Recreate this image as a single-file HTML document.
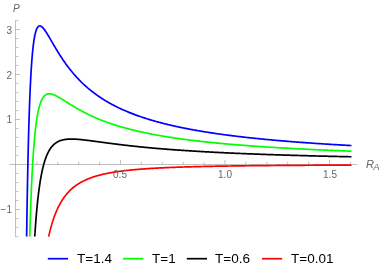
<!DOCTYPE html>
<html><head><meta charset="utf-8"><style>
html,body{margin:0;padding:0;background:#fff}
body{width:382px;height:272px;position:relative;overflow:hidden;font-family:"Liberation Sans",sans-serif}
.t,.l{will-change:transform}
.t{position:absolute;color:#666;font-size:10px;line-height:12px;white-space:nowrap}
.l{position:absolute;color:#000;font-size:13.5px;line-height:16px;white-space:nowrap;top:250.8px}
.i{font-style:italic}
</style></head><body>
<svg width="382" height="272" viewBox="0 0 382 272" style="position:absolute;left:0;top:0">
<g stroke="#808080" stroke-width="0.5" fill="none">
<line x1="9.3" y1="164.50" x2="357.3" y2="164.50"/>
<line x1="15.50" y1="20.5" x2="15.50" y2="236.5"/>
<line x1="36.90" y1="164.50" x2="36.90" y2="161.70"/>
<line x1="57.80" y1="164.50" x2="57.80" y2="161.70"/>
<line x1="78.70" y1="164.50" x2="78.70" y2="161.70"/>
<line x1="99.60" y1="164.50" x2="99.60" y2="161.70"/>
<line x1="120.50" y1="164.50" x2="120.50" y2="160.00"/>
<line x1="141.40" y1="164.50" x2="141.40" y2="161.70"/>
<line x1="162.30" y1="164.50" x2="162.30" y2="161.70"/>
<line x1="183.20" y1="164.50" x2="183.20" y2="161.70"/>
<line x1="204.10" y1="164.50" x2="204.10" y2="161.70"/>
<line x1="225.00" y1="164.50" x2="225.00" y2="160.00"/>
<line x1="245.90" y1="164.50" x2="245.90" y2="161.70"/>
<line x1="266.80" y1="164.50" x2="266.80" y2="161.70"/>
<line x1="287.70" y1="164.50" x2="287.70" y2="161.70"/>
<line x1="308.60" y1="164.50" x2="308.60" y2="161.70"/>
<line x1="329.50" y1="164.50" x2="329.50" y2="160.00"/>
<line x1="350.40" y1="164.50" x2="350.40" y2="161.70"/>
<line x1="15.5" y1="236.50" x2="18.30" y2="236.50"/>
<line x1="15.5" y1="227.50" x2="18.30" y2="227.50"/>
<line x1="15.5" y1="218.50" x2="18.30" y2="218.50"/>
<line x1="15.5" y1="209.50" x2="20.00" y2="209.50"/>
<line x1="15.5" y1="200.50" x2="18.30" y2="200.50"/>
<line x1="15.5" y1="191.50" x2="18.30" y2="191.50"/>
<line x1="15.5" y1="182.50" x2="18.30" y2="182.50"/>
<line x1="15.5" y1="173.50" x2="18.30" y2="173.50"/>
<line x1="15.5" y1="155.50" x2="18.30" y2="155.50"/>
<line x1="15.5" y1="146.50" x2="18.30" y2="146.50"/>
<line x1="15.5" y1="137.50" x2="18.30" y2="137.50"/>
<line x1="15.5" y1="128.50" x2="18.30" y2="128.50"/>
<line x1="15.5" y1="119.50" x2="20.00" y2="119.50"/>
<line x1="15.5" y1="110.50" x2="18.30" y2="110.50"/>
<line x1="15.5" y1="101.50" x2="18.30" y2="101.50"/>
<line x1="15.5" y1="92.50" x2="18.30" y2="92.50"/>
<line x1="15.5" y1="83.50" x2="18.30" y2="83.50"/>
<line x1="15.5" y1="74.50" x2="20.00" y2="74.50"/>
<line x1="15.5" y1="65.50" x2="18.30" y2="65.50"/>
<line x1="15.5" y1="56.50" x2="18.30" y2="56.50"/>
<line x1="15.5" y1="47.50" x2="18.30" y2="47.50"/>
<line x1="15.5" y1="38.50" x2="18.30" y2="38.50"/>
<line x1="15.5" y1="29.50" x2="20.00" y2="29.50"/>
<line x1="15.5" y1="20.50" x2="18.30" y2="20.50"/>
</g>
<path d="M26.64 236.50 L26.64 236.48 L26.64 236.42 L26.64 236.30 L26.65 236.12 L26.65 235.88 L26.65 235.58 L26.66 235.20 L26.67 234.76 L26.67 234.25 L26.68 233.67 L26.69 233.01 L26.70 232.29 L26.71 231.49 L26.72 230.61 L26.74 229.66 L26.75 228.64 L26.77 227.54 L26.79 226.37 L26.80 225.13 L26.82 223.82 L26.84 222.43 L26.87 220.98 L26.89 219.45 L26.91 217.86 L26.94 216.19 L26.97 214.47 L27.00 212.68 L27.02 210.82 L27.06 208.91 L27.09 206.94 L27.12 204.91 L27.16 202.82 L27.19 200.68 L27.23 198.49 L27.27 196.25 L27.31 193.97 L27.35 191.64 L27.39 189.27 L27.44 186.85 L27.48 184.40 L27.53 181.92 L27.58 179.40 L27.63 176.86 L27.68 174.28 L27.73 171.68 L27.78 169.06 L27.84 166.42 L27.90 163.76 L27.95 161.08 L28.01 158.40 L28.07 155.70 L28.14 152.99 L28.20 150.28 L28.27 147.57 L28.33 144.86 L28.40 142.14 L28.47 139.43 L28.54 136.73 L28.62 134.04 L28.69 131.35 L28.77 128.68 L28.84 126.02 L28.92 123.38 L29.00 120.75 L29.09 118.15 L29.17 115.56 L29.25 113.00 L29.34 110.47 L29.43 107.96 L29.52 105.48 L29.61 103.02 L29.70 100.60 L29.80 98.21 L29.89 95.85 L29.99 93.53 L30.09 91.24 L30.19 88.98 L30.29 86.77 L30.40 84.59 L30.50 82.44 L30.61 80.34 L30.72 78.28 L30.83 76.26 L30.94 74.28 L31.05 72.34 L31.17 70.44 L31.28 68.58 L31.40 66.77 L31.52 65.00 L31.64 63.27 L31.77 61.58 L31.89 59.94 L32.02 58.34 L32.14 56.79 L32.27 55.27 L32.40 53.80 L32.54 52.38 L32.67 50.99 L32.81 49.65 L32.95 48.35 L33.09 47.09 L33.23 45.88 L33.37 44.70 L33.51 43.57 L33.66 42.48 L33.81 41.43 L33.96 40.41 L34.11 39.44 L34.26 38.51 L34.42 37.61 L34.57 36.76 L34.73 35.94 L34.89 35.16 L35.05 34.41 L35.22 33.70 L35.38 33.03 L35.55 32.39 L35.72 31.78 L35.89 31.21 L36.06 30.67 L36.23 30.17 L36.41 29.70 L36.58 29.25 L36.76 28.84 L36.94 28.46 L37.12 28.11 L37.31 27.79 L37.49 27.49 L37.68 27.23 L37.87 26.99 L38.06 26.78 L38.25 26.59 L38.45 26.43 L38.65 26.29 L38.84 26.18 L39.04 26.09 L39.24 26.02 L39.45 25.98 L39.65 25.96 L39.86 25.96 L40.07 25.98 L40.28 26.02 L40.49 26.08 L40.70 26.16 L40.92 26.26 L41.14 26.37 L41.36 26.51 L41.58 26.66 L41.80 26.82 L42.03 27.01 L42.25 27.21 L42.48 27.42 L42.71 27.65 L42.94 27.89 L43.18 28.15 L43.41 28.42 L43.65 28.70 L43.89 28.99 L44.13 29.30 L44.37 29.62 L44.62 29.95 L44.86 30.29 L45.11 30.64 L45.36 31.00 L45.62 31.37 L45.87 31.75 L46.12 32.14 L46.38 32.54 L46.64 32.94 L46.90 33.36 L47.17 33.78 L47.43 34.21 L47.70 34.65 L47.97 35.09 L48.24 35.54 L48.51 35.99 L48.78 36.45 L49.06 36.92 L49.34 37.39 L49.62 37.87 L49.90 38.35 L50.18 38.84 L50.47 39.33 L50.76 39.83 L51.05 40.32 L51.34 40.83 L51.63 41.33 L51.92 41.84 L52.22 42.36 L52.52 42.87 L52.82 43.39 L53.12 43.91 L53.43 44.43 L53.73 44.96 L54.04 45.48 L54.35 46.01 L54.66 46.54 L54.98 47.08 L55.29 47.61 L55.61 48.14 L55.93 48.68 L56.25 49.22 L56.58 49.75 L56.90 50.29 L57.23 50.83 L57.56 51.37 L57.89 51.91 L58.22 52.45 L58.56 52.99 L58.89 53.53 L59.23 54.07 L59.57 54.60 L59.92 55.14 L60.26 55.68 L60.61 56.22 L60.96 56.76 L61.31 57.29 L61.66 57.83 L62.01 58.36 L62.37 58.90 L62.73 59.43 L63.09 59.96 L63.45 60.49 L63.81 61.02 L64.18 61.55 L64.55 62.08 L64.92 62.60 L65.29 63.13 L65.66 63.65 L66.04 64.17 L66.42 64.69 L66.80 65.21 L67.18 65.72 L67.56 66.24 L67.95 66.75 L68.34 67.26 L68.73 67.77 L69.12 68.28 L69.51 68.78 L69.91 69.29 L70.31 69.79 L70.71 70.29 L71.11 70.79 L71.51 71.28 L71.92 71.78 L72.32 72.27 L72.73 72.76 L73.14 73.24 L73.56 73.73 L73.97 74.21 L74.39 74.69 L74.81 75.17 L75.23 75.64 L75.66 76.12 L76.08 76.59 L76.51 77.06 L76.94 77.53 L77.37 77.99 L77.80 78.45 L78.24 78.91 L78.68 79.37 L79.12 79.83 L79.56 80.28 L80.00 80.73 L80.45 81.18 L80.89 81.62 L81.34 82.07 L81.80 82.51 L82.25 82.95 L82.71 83.38 L83.16 83.82 L83.62 84.25 L84.09 84.68 L84.55 85.10 L85.02 85.53 L85.48 85.95 L85.95 86.37 L86.43 86.79 L86.90 87.20 L87.38 87.61 L87.85 88.03 L88.33 88.43 L88.82 88.84 L89.30 89.24 L89.79 89.64 L90.28 90.04 L90.77 90.44 L91.26 90.83 L91.75 91.22 L92.25 91.61 L92.75 92.00 L93.25 92.38 L93.75 92.76 L94.26 93.14 L94.76 93.52 L95.27 93.90 L95.79 94.27 L96.30 94.64 L96.81 95.01 L97.33 95.38 L97.85 95.74 L98.37 96.10 L98.90 96.46 L99.42 96.82 L99.95 97.17 L100.48 97.53 L101.01 97.88 L101.54 98.23 L102.08 98.57 L102.62 98.92 L103.16 99.26 L103.70 99.60 L104.25 99.94 L104.79 100.28 L105.34 100.61 L105.89 100.94 L106.44 101.27 L107.00 101.60 L107.56 101.92 L108.12 102.25 L108.68 102.57 L109.24 102.89 L109.81 103.21 L110.37 103.52 L110.94 103.83 L111.51 104.15 L112.09 104.46 L112.66 104.76 L113.24 105.07 L113.82 105.37 L114.40 105.67 L114.99 105.97 L115.57 106.27 L116.16 106.57 L116.75 106.86 L117.35 107.15 L117.94 107.45 L118.54 107.73 L119.14 108.02 L119.74 108.31 L120.34 108.59 L120.95 108.87 L121.56 109.15 L122.17 109.43 L122.78 109.70 L123.39 109.98 L124.01 110.25 L124.63 110.52 L125.25 110.79 L125.87 111.06 L126.49 111.32 L127.12 111.59 L127.75 111.85 L128.38 112.11 L129.02 112.37 L129.65 112.63 L130.29 112.88 L130.93 113.14 L131.57 113.39 L132.21 113.64 L132.86 113.89 L133.51 114.14 L134.16 114.38 L134.81 114.63 L135.47 114.87 L136.12 115.11 L136.78 115.35 L137.44 115.59 L138.11 115.83 L138.77 116.07 L139.44 116.30 L140.11 116.53 L140.78 116.76 L141.46 116.99 L142.13 117.22 L142.81 117.45 L143.49 117.67 L144.18 117.90 L144.86 118.12 L145.55 118.34 L146.24 118.56 L146.93 118.78 L147.62 119.00 L148.32 119.21 L149.02 119.43 L149.72 119.64 L150.42 119.85 L151.13 120.06 L151.83 120.27 L152.54 120.48 L153.25 120.69 L153.97 120.89 L154.68 121.09 L155.40 121.30 L156.12 121.50 L156.84 121.70 L157.57 121.90 L158.29 122.10 L159.02 122.29 L159.75 122.49 L160.49 122.68 L161.22 122.87 L161.96 123.07 L162.70 123.26 L163.44 123.45 L164.19 123.63 L164.93 123.82 L165.68 124.01 L166.43 124.19 L167.19 124.38 L167.94 124.56 L168.70 124.74 L169.46 124.92 L170.22 125.10 L170.98 125.28 L171.75 125.45 L172.52 125.63 L173.29 125.81 L174.06 125.98 L174.84 126.15 L175.61 126.32 L176.39 126.49 L177.18 126.66 L177.96 126.83 L178.75 127.00 L179.53 127.17 L180.33 127.33 L181.12 127.50 L181.91 127.66 L182.71 127.82 L183.51 127.99 L184.31 128.15 L185.12 128.31 L185.92 128.46 L186.73 128.62 L187.54 128.78 L188.36 128.94 L189.17 129.09 L189.99 129.24 L190.81 129.40 L191.63 129.55 L192.45 129.70 L193.28 129.85 L194.11 130.00 L194.94 130.15 L195.77 130.30 L196.61 130.45 L197.45 130.59 L198.29 130.74 L199.13 130.88 L199.97 131.03 L200.82 131.17 L201.67 131.31 L202.52 131.45 L203.37 131.59 L204.23 131.73 L205.09 131.87 L205.95 132.01 L206.81 132.15 L207.67 132.28 L208.54 132.42 L209.41 132.55 L210.28 132.69 L211.15 132.82 L212.03 132.95 L212.91 133.08 L213.79 133.21 L214.67 133.34 L215.56 133.47 L216.44 133.60 L217.33 133.73 L218.23 133.86 L219.12 133.98 L220.02 134.11 L220.92 134.23 L221.82 134.36 L222.72 134.48 L223.62 134.61 L224.53 134.73 L225.44 134.85 L226.35 134.97 L227.27 135.09 L228.19 135.21 L229.11 135.33 L230.03 135.45 L230.95 135.56 L231.88 135.68 L232.80 135.80 L233.74 135.91 L234.67 136.03 L235.60 136.14 L236.54 136.26 L237.48 136.37 L238.42 136.48 L239.37 136.59 L240.31 136.70 L241.26 136.82 L242.21 136.93 L243.17 137.03 L244.12 137.14 L245.08 137.25 L246.04 137.36 L247.00 137.47 L247.97 137.57 L248.94 137.68 L249.91 137.78 L250.88 137.89 L251.85 137.99 L252.83 138.10 L253.81 138.20 L254.79 138.30 L255.77 138.40 L256.76 138.50 L257.75 138.61 L258.74 138.71 L259.73 138.80 L260.72 138.90 L261.72 139.00 L262.72 139.10 L263.72 139.20 L264.73 139.30 L265.73 139.39 L266.74 139.49 L267.75 139.58 L268.77 139.68 L269.78 139.77 L270.80 139.87 L271.82 139.96 L272.84 140.05 L273.87 140.15 L274.90 140.24 L275.92 140.33 L276.96 140.42 L277.99 140.51 L279.03 140.60 L280.07 140.69 L281.11 140.78 L282.15 140.87 L283.20 140.96 L284.25 141.04 L285.30 141.13 L286.35 141.22 L287.41 141.30 L288.46 141.39 L289.52 141.48 L290.59 141.56 L291.65 141.65 L292.72 141.73 L293.79 141.81 L294.86 141.90 L295.93 141.98 L297.01 142.06 L298.09 142.14 L299.17 142.23 L300.25 142.31 L301.34 142.39 L302.43 142.47 L303.52 142.55 L304.61 142.63 L305.70 142.71 L306.80 142.79 L307.90 142.86 L309.00 142.94 L310.11 143.02 L311.22 143.10 L312.32 143.17 L313.44 143.25 L314.55 143.33 L315.67 143.40 L316.78 143.48 L317.91 143.55 L319.03 143.63 L320.16 143.70 L321.28 143.77 L322.41 143.85 L323.55 143.92 L324.68 143.99 L325.82 144.07 L326.96 144.14 L328.10 144.21 L329.25 144.28 L330.39 144.35 L331.54 144.42 L332.69 144.49 L333.85 144.56 L335.00 144.63 L336.16 144.70 L337.32 144.77 L338.49 144.84 L339.65 144.91 L340.82 144.97 L341.99 145.04 L343.17 145.11 L344.34 145.17 L345.52 145.24 L346.70 145.31 L347.88 145.37 L349.07 145.44 L350.26 145.50 L351.44 145.57" stroke="#0000ff" stroke-width="1.7" fill="none" stroke-linejoin="round"/>
<path d="M29.74 236.50 L29.74 236.49 L29.74 236.46 L29.74 236.40 L29.75 236.31 L29.75 236.20 L29.75 236.05 L29.76 235.87 L29.76 235.65 L29.77 235.40 L29.78 235.11 L29.79 234.79 L29.80 234.43 L29.81 234.04 L29.82 233.61 L29.84 233.14 L29.85 232.64 L29.87 232.09 L29.88 231.52 L29.90 230.90 L29.92 230.25 L29.94 229.56 L29.96 228.83 L29.99 228.07 L30.01 227.27 L30.04 226.44 L30.06 225.57 L30.09 224.67 L30.12 223.73 L30.15 222.76 L30.18 221.76 L30.22 220.72 L30.25 219.66 L30.29 218.56 L30.32 217.43 L30.36 216.28 L30.40 215.09 L30.44 213.88 L30.48 212.64 L30.53 211.38 L30.57 210.09 L30.62 208.78 L30.67 207.45 L30.72 206.09 L30.77 204.72 L30.82 203.32 L30.87 201.91 L30.93 200.48 L30.98 199.03 L31.04 197.57 L31.10 196.09 L31.16 194.60 L31.22 193.10 L31.29 191.59 L31.35 190.06 L31.42 188.53 L31.48 186.99 L31.55 185.45 L31.62 183.90 L31.70 182.34 L31.77 180.78 L31.85 179.22 L31.92 177.65 L32.00 176.09 L32.08 174.53 L32.16 172.97 L32.24 171.41 L32.33 169.85 L32.41 168.30 L32.50 166.75 L32.59 165.21 L32.68 163.68 L32.77 162.15 L32.87 160.63 L32.96 159.12 L33.06 157.62 L33.16 156.13 L33.25 154.66 L33.36 153.19 L33.46 151.74 L33.56 150.30 L33.67 148.88 L33.78 147.46 L33.89 146.07 L34.00 144.69 L34.11 143.32 L34.22 141.97 L34.34 140.64 L34.45 139.33 L34.57 138.03 L34.69 136.75 L34.82 135.49 L34.94 134.25 L35.06 133.03 L35.19 131.82 L35.32 130.64 L35.45 129.47 L35.58 128.33 L35.71 127.20 L35.85 126.10 L35.99 125.01 L36.12 123.95 L36.26 122.90 L36.41 121.88 L36.55 120.88 L36.69 119.90 L36.84 118.94 L36.99 117.99 L37.14 117.07 L37.29 116.18 L37.44 115.30 L37.60 114.44 L37.75 113.60 L37.91 112.78 L38.07 111.99 L38.23 111.21 L38.40 110.45 L38.56 109.72 L38.73 109.00 L38.90 108.30 L39.07 107.62 L39.24 106.97 L39.41 106.33 L39.59 105.71 L39.77 105.11 L39.94 104.52 L40.12 103.96 L40.31 103.41 L40.49 102.89 L40.68 102.38 L40.86 101.88 L41.05 101.41 L41.24 100.95 L41.44 100.51 L41.63 100.08 L41.83 99.68 L42.02 99.28 L42.22 98.91 L42.42 98.55 L42.63 98.20 L42.83 97.87 L43.04 97.56 L43.25 97.26 L43.46 96.97 L43.67 96.70 L43.88 96.45 L44.10 96.20 L44.32 95.97 L44.54 95.75 L44.76 95.55 L44.98 95.36 L45.20 95.18 L45.43 95.01 L45.66 94.86 L45.89 94.72 L46.12 94.58 L46.35 94.46 L46.59 94.36 L46.82 94.26 L47.06 94.17 L47.30 94.09 L47.55 94.02 L47.79 93.97 L48.04 93.92 L48.28 93.88 L48.53 93.85 L48.78 93.83 L49.04 93.82 L49.29 93.81 L49.55 93.82 L49.81 93.83 L50.07 93.85 L50.33 93.88 L50.60 93.92 L50.86 93.96 L51.13 94.01 L51.40 94.07 L51.67 94.14 L51.95 94.21 L52.22 94.29 L52.50 94.37 L52.78 94.46 L53.06 94.56 L53.34 94.66 L53.63 94.76 L53.91 94.88 L54.20 94.99 L54.49 95.12 L54.78 95.25 L55.08 95.38 L55.37 95.52 L55.67 95.66 L55.97 95.80 L56.27 95.95 L56.57 96.11 L56.88 96.27 L57.19 96.43 L57.50 96.60 L57.81 96.77 L58.12 96.94 L58.43 97.12 L58.75 97.30 L59.07 97.48 L59.39 97.66 L59.71 97.85 L60.04 98.04 L60.36 98.24 L60.69 98.44 L61.02 98.63 L61.35 98.84 L61.69 99.04 L62.02 99.25 L62.36 99.45 L62.70 99.67 L63.04 99.88 L63.38 100.09 L63.73 100.31 L64.08 100.52 L64.42 100.74 L64.78 100.96 L65.13 101.19 L65.48 101.41 L65.84 101.63 L66.20 101.86 L66.56 102.09 L66.92 102.31 L67.29 102.54 L67.65 102.77 L68.02 103.00 L68.39 103.24 L68.76 103.47 L69.14 103.70 L69.51 103.94 L69.89 104.17 L70.27 104.41 L70.65 104.64 L71.04 104.88 L71.42 105.12 L71.81 105.35 L72.20 105.59 L72.59 105.83 L72.99 106.07 L73.38 106.30 L73.78 106.54 L74.18 106.78 L74.58 107.02 L74.99 107.26 L75.39 107.50 L75.80 107.73 L76.21 107.97 L76.62 108.21 L77.03 108.45 L77.45 108.69 L77.87 108.92 L78.29 109.16 L78.71 109.40 L79.13 109.64 L79.56 109.87 L79.99 110.11 L80.41 110.35 L80.85 110.58 L81.28 110.82 L81.71 111.05 L82.15 111.29 L82.59 111.52 L83.03 111.75 L83.48 111.99 L83.92 112.22 L84.37 112.45 L84.82 112.68 L85.27 112.91 L85.72 113.14 L86.18 113.37 L86.64 113.60 L87.10 113.83 L87.56 114.06 L88.02 114.28 L88.49 114.51 L88.95 114.74 L89.42 114.96 L89.90 115.19 L90.37 115.41 L90.85 115.63 L91.32 115.85 L91.80 116.08 L92.28 116.30 L92.77 116.52 L93.25 116.73 L93.74 116.95 L94.23 117.17 L94.72 117.39 L95.22 117.60 L95.71 117.82 L96.21 118.03 L96.71 118.24 L97.21 118.46 L97.72 118.67 L98.22 118.88 L98.73 119.09 L99.24 119.30 L99.76 119.50 L100.27 119.71 L100.79 119.92 L101.31 120.12 L101.83 120.33 L102.35 120.53 L102.87 120.73 L103.40 120.93 L103.93 121.14 L104.46 121.34 L104.99 121.53 L105.53 121.73 L106.07 121.93 L106.60 122.13 L107.15 122.32 L107.69 122.52 L108.23 122.71 L108.78 122.90 L109.33 123.09 L109.88 123.28 L110.44 123.47 L110.99 123.66 L111.55 123.85 L112.11 124.04 L112.67 124.23 L113.24 124.41 L113.80 124.60 L114.37 124.78 L114.94 124.96 L115.51 125.14 L116.09 125.32 L116.67 125.50 L117.24 125.68 L117.83 125.86 L118.41 126.04 L118.99 126.21 L119.58 126.39 L120.17 126.56 L120.76 126.74 L121.36 126.91 L121.95 127.08 L122.55 127.25 L123.15 127.42 L123.75 127.59 L124.35 127.76 L124.96 127.93 L125.57 128.10 L126.18 128.26 L126.79 128.43 L127.41 128.59 L128.02 128.75 L128.64 128.92 L129.26 129.08 L129.89 129.24 L130.51 129.40 L131.14 129.56 L131.77 129.72 L132.40 129.87 L133.03 130.03 L133.67 130.18 L134.31 130.34 L134.95 130.49 L135.59 130.65 L136.23 130.80 L136.88 130.95 L137.53 131.10 L138.18 131.25 L138.83 131.40 L139.49 131.55 L140.14 131.70 L140.80 131.84 L141.46 131.99 L142.13 132.13 L142.79 132.28 L143.46 132.42 L144.13 132.56 L144.80 132.71 L145.48 132.85 L146.16 132.99 L146.83 133.13 L147.51 133.27 L148.20 133.40 L148.88 133.54 L149.57 133.68 L150.26 133.81 L150.95 133.95 L151.64 134.08 L152.34 134.22 L153.04 134.35 L153.74 134.48 L154.44 134.61 L155.15 134.74 L155.85 134.87 L156.56 135.00 L157.27 135.13 L157.98 135.26 L158.70 135.39 L159.42 135.51 L160.14 135.64 L160.86 135.76 L161.58 135.89 L162.31 136.01 L163.04 136.14 L163.77 136.26 L164.50 136.38 L165.24 136.50 L165.97 136.62 L166.71 136.74 L167.45 136.86 L168.20 136.98 L168.94 137.10 L169.69 137.21 L170.44 137.33 L171.19 137.45 L171.95 137.56 L172.71 137.68 L173.46 137.79 L174.23 137.90 L174.99 138.02 L175.75 138.13 L176.52 138.24 L177.29 138.35 L178.06 138.46 L178.84 138.57 L179.62 138.68 L180.39 138.79 L181.18 138.90 L181.96 139.00 L182.74 139.11 L183.53 139.22 L184.32 139.32 L185.11 139.43 L185.91 139.53 L186.70 139.64 L187.50 139.74 L188.30 139.84 L189.11 139.94 L189.91 140.05 L190.72 140.15 L191.53 140.25 L192.34 140.35 L193.15 140.45 L193.97 140.55 L194.79 140.64 L195.61 140.74 L196.43 140.84 L197.26 140.94 L198.09 141.03 L198.92 141.13 L199.75 141.22 L200.58 141.32 L201.42 141.41 L202.26 141.51 L203.10 141.60 L203.94 141.69 L204.79 141.79 L205.63 141.88 L206.48 141.97 L207.33 142.06 L208.19 142.15 L209.05 142.24 L209.90 142.33 L210.76 142.42 L211.63 142.51 L212.49 142.59 L213.36 142.68 L214.23 142.77 L215.10 142.85 L215.98 142.94 L216.85 143.03 L217.73 143.11 L218.61 143.20 L219.50 143.28 L220.38 143.36 L221.27 143.45 L222.16 143.53 L223.05 143.61 L223.95 143.69 L224.84 143.78 L225.74 143.86 L226.64 143.94 L227.55 144.02 L228.45 144.10 L229.36 144.18 L230.27 144.26 L231.19 144.34 L232.10 144.41 L233.02 144.49 L233.94 144.57 L234.86 144.65 L235.78 144.72 L236.71 144.80 L237.64 144.88 L238.57 144.95 L239.50 145.03 L240.44 145.10 L241.37 145.17 L242.31 145.25 L243.26 145.32 L244.20 145.39 L245.15 145.47 L246.10 145.54 L247.05 145.61 L248.00 145.68 L248.96 145.75 L249.91 145.83 L250.87 145.90 L251.84 145.97 L252.80 146.04 L253.77 146.11 L254.74 146.17 L255.71 146.24 L256.68 146.31 L257.66 146.38 L258.64 146.45 L259.62 146.52 L260.60 146.58 L261.59 146.65 L262.58 146.72 L263.57 146.78 L264.56 146.85 L265.55 146.91 L266.55 146.98 L267.55 147.04 L268.55 147.11 L269.55 147.17 L270.56 147.23 L271.57 147.30 L272.58 147.36 L273.59 147.42 L274.61 147.49 L275.63 147.55 L276.65 147.61 L277.67 147.67 L278.69 147.73 L279.72 147.79 L280.75 147.85 L281.78 147.91 L282.81 147.97 L283.85 148.03 L284.89 148.09 L285.93 148.15 L286.97 148.21 L288.02 148.27 L289.06 148.33 L290.11 148.39 L291.17 148.44 L292.22 148.50 L293.28 148.56 L294.34 148.61 L295.40 148.67 L296.46 148.73 L297.53 148.78 L298.60 148.84 L299.67 148.89 L300.74 148.95 L301.82 149.00 L302.89 149.06 L303.97 149.11 L305.06 149.17 L306.14 149.22 L307.23 149.27 L308.32 149.33 L309.41 149.38 L310.50 149.43 L311.60 149.49 L312.70 149.54 L313.80 149.59 L314.90 149.64 L316.01 149.69 L317.12 149.75 L318.23 149.80 L319.34 149.85 L320.45 149.90 L321.57 149.95 L322.69 150.00 L323.81 150.05 L324.94 150.10 L326.06 150.15 L327.19 150.20 L328.32 150.25 L329.46 150.29 L330.59 150.34 L331.73 150.39 L332.87 150.44 L334.02 150.49 L335.16 150.53 L336.31 150.58 L337.46 150.63 L338.61 150.68 L339.77 150.72 L340.92 150.77 L342.08 150.81 L343.25 150.86 L344.41 150.91 L345.58 150.95 L346.75 151.00 L347.92 151.04 L349.09 151.09 L350.27 151.13 L351.44 151.18" stroke="#00ff00" stroke-width="1.7" fill="none" stroke-linejoin="round"/>
<path d="M34.75 236.50 L34.75 236.50 L34.75 236.48 L34.75 236.46 L34.75 236.42 L34.76 236.37 L34.76 236.30 L34.77 236.22 L34.77 236.13 L34.78 236.02 L34.79 235.89 L34.80 235.75 L34.81 235.60 L34.82 235.42 L34.83 235.23 L34.84 235.03 L34.86 234.80 L34.87 234.56 L34.89 234.31 L34.91 234.04 L34.93 233.75 L34.95 233.44 L34.97 233.12 L34.99 232.78 L35.02 232.42 L35.04 232.05 L35.07 231.66 L35.09 231.25 L35.12 230.83 L35.15 230.39 L35.18 229.94 L35.22 229.47 L35.25 228.98 L35.29 228.48 L35.32 227.97 L35.36 227.44 L35.40 226.89 L35.44 226.33 L35.48 225.76 L35.52 225.17 L35.57 224.57 L35.61 223.95 L35.66 223.32 L35.71 222.68 L35.76 222.03 L35.81 221.36 L35.86 220.69 L35.92 220.00 L35.97 219.30 L36.03 218.59 L36.09 217.87 L36.15 217.14 L36.21 216.40 L36.27 215.66 L36.33 214.90 L36.40 214.13 L36.47 213.36 L36.53 212.58 L36.60 211.79 L36.67 211.00 L36.75 210.20 L36.82 209.40 L36.90 208.58 L36.97 207.77 L37.05 206.95 L37.13 206.12 L37.21 205.29 L37.30 204.46 L37.38 203.62 L37.47 202.79 L37.55 201.94 L37.64 201.10 L37.73 200.26 L37.83 199.41 L37.92 198.57 L38.01 197.72 L38.11 196.87 L38.21 196.03 L38.31 195.18 L38.41 194.34 L38.51 193.49 L38.62 192.65 L38.72 191.81 L38.83 190.97 L38.94 190.14 L39.05 189.31 L39.16 188.48 L39.27 187.65 L39.39 186.83 L39.51 186.01 L39.62 185.20 L39.74 184.39 L39.87 183.59 L39.99 182.79 L40.11 181.99 L40.24 181.20 L40.37 180.42 L40.50 179.64 L40.63 178.87 L40.76 178.11 L40.90 177.35 L41.03 176.60 L41.17 175.85 L41.31 175.11 L41.45 174.38 L41.59 173.66 L41.74 172.94 L41.88 172.23 L42.03 171.53 L42.18 170.84 L42.33 170.15 L42.48 169.47 L42.64 168.80 L42.79 168.14 L42.95 167.49 L43.11 166.84 L43.27 166.20 L43.43 165.57 L43.60 164.95 L43.76 164.34 L43.93 163.74 L44.10 163.14 L44.27 162.55 L44.44 161.98 L44.62 161.41 L44.79 160.85 L44.97 160.29 L45.15 159.75 L45.33 159.21 L45.51 158.69 L45.70 158.17 L45.88 157.66 L46.07 157.16 L46.26 156.67 L46.45 156.18 L46.65 155.71 L46.84 155.24 L47.04 154.78 L47.24 154.33 L47.44 153.89 L47.64 153.46 L47.84 153.03 L48.05 152.61 L48.25 152.20 L48.46 151.80 L48.67 151.41 L48.88 151.03 L49.10 150.65 L49.31 150.28 L49.53 149.92 L49.75 149.56 L49.97 149.22 L50.19 148.88 L50.42 148.55 L50.64 148.22 L50.87 147.90 L51.10 147.60 L51.33 147.29 L51.57 147.00 L51.80 146.71 L52.04 146.43 L52.28 146.15 L52.52 145.89 L52.76 145.62 L53.00 145.37 L53.25 145.12 L53.50 144.88 L53.75 144.64 L54.00 144.41 L54.25 144.19 L54.51 143.97 L54.76 143.76 L55.02 143.56 L55.28 143.36 L55.54 143.17 L55.81 142.98 L56.07 142.80 L56.34 142.62 L56.61 142.45 L56.88 142.28 L57.15 142.12 L57.43 141.96 L57.70 141.81 L57.98 141.67 L58.26 141.53 L58.54 141.39 L58.83 141.26 L59.11 141.13 L59.40 141.01 L59.69 140.89 L59.98 140.78 L60.28 140.67 L60.57 140.57 L60.87 140.47 L61.17 140.37 L61.47 140.28 L61.77 140.19 L62.07 140.10 L62.38 140.02 L62.69 139.95 L63.00 139.87 L63.31 139.80 L63.62 139.74 L63.94 139.68 L64.25 139.62 L64.57 139.56 L64.89 139.51 L65.22 139.46 L65.54 139.41 L65.87 139.37 L66.20 139.33 L66.53 139.29 L66.86 139.26 L67.19 139.23 L67.53 139.20 L67.87 139.17 L68.21 139.15 L68.55 139.13 L68.89 139.11 L69.24 139.10 L69.59 139.08 L69.94 139.07 L70.29 139.06 L70.64 139.06 L70.99 139.05 L71.35 139.05 L71.71 139.05 L72.07 139.06 L72.43 139.06 L72.80 139.07 L73.16 139.08 L73.53 139.09 L73.90 139.10 L74.28 139.11 L74.65 139.13 L75.03 139.15 L75.40 139.17 L75.78 139.19 L76.17 139.21 L76.55 139.23 L76.94 139.26 L77.32 139.29 L77.71 139.32 L78.10 139.35 L78.50 139.38 L78.89 139.41 L79.29 139.44 L79.69 139.48 L80.09 139.52 L80.49 139.55 L80.90 139.59 L81.31 139.63 L81.72 139.68 L82.13 139.72 L82.54 139.76 L82.95 139.81 L83.37 139.85 L83.79 139.90 L84.21 139.95 L84.63 139.99 L85.06 140.04 L85.49 140.09 L85.91 140.14 L86.34 140.20 L86.78 140.25 L87.21 140.30 L87.65 140.36 L88.09 140.41 L88.53 140.47 L88.97 140.52 L89.41 140.58 L89.86 140.64 L90.31 140.69 L90.76 140.75 L91.21 140.81 L91.67 140.87 L92.12 140.93 L92.58 140.99 L93.04 141.05 L93.50 141.12 L93.97 141.18 L94.43 141.24 L94.90 141.30 L95.37 141.37 L95.84 141.43 L96.32 141.49 L96.80 141.56 L97.27 141.62 L97.75 141.69 L98.24 141.76 L98.72 141.82 L99.21 141.89 L99.70 141.95 L100.19 142.02 L100.68 142.09 L101.17 142.15 L101.67 142.22 L102.17 142.29 L102.67 142.36 L103.17 142.42 L103.67 142.49 L104.18 142.56 L104.69 142.63 L105.20 142.70 L105.71 142.77 L106.23 142.84 L106.74 142.90 L107.26 142.97 L107.78 143.04 L108.31 143.11 L108.83 143.18 L109.36 143.25 L109.89 143.32 L110.42 143.39 L110.95 143.46 L111.48 143.53 L112.02 143.60 L112.56 143.67 L113.10 143.74 L113.64 143.81 L114.19 143.88 L114.74 143.95 L115.29 144.02 L115.84 144.09 L116.39 144.16 L116.95 144.22 L117.50 144.29 L118.06 144.36 L118.62 144.43 L119.19 144.50 L119.75 144.57 L120.32 144.64 L120.89 144.71 L121.46 144.78 L122.04 144.85 L122.61 144.92 L123.19 144.98 L123.77 145.05 L124.35 145.12 L124.94 145.19 L125.52 145.26 L126.11 145.33 L126.70 145.39 L127.29 145.46 L127.89 145.53 L128.49 145.60 L129.09 145.67 L129.69 145.73 L130.29 145.80 L130.89 145.87 L131.50 145.93 L132.11 146.00 L132.72 146.07 L133.33 146.13 L133.95 146.20 L134.57 146.27 L135.19 146.33 L135.81 146.40 L136.43 146.46 L137.06 146.53 L137.69 146.60 L138.32 146.66 L138.95 146.73 L139.58 146.79 L140.22 146.85 L140.86 146.92 L141.50 146.98 L142.14 147.05 L142.79 147.11 L143.43 147.18 L144.08 147.24 L144.73 147.30 L145.39 147.37 L146.04 147.43 L146.70 147.49 L147.36 147.55 L148.02 147.62 L148.69 147.68 L149.35 147.74 L150.02 147.80 L150.69 147.86 L151.36 147.92 L152.04 147.99 L152.71 148.05 L153.39 148.11 L154.07 148.17 L154.75 148.23 L155.44 148.29 L156.13 148.35 L156.82 148.41 L157.51 148.47 L158.20 148.53 L158.90 148.59 L159.59 148.64 L160.29 148.70 L161.00 148.76 L161.70 148.82 L162.41 148.88 L163.12 148.93 L163.83 148.99 L164.54 149.05 L165.25 149.11 L165.97 149.16 L166.69 149.22 L167.41 149.28 L168.14 149.33 L168.86 149.39 L169.59 149.44 L170.32 149.50 L171.05 149.56 L171.78 149.61 L172.52 149.67 L173.26 149.72 L174.00 149.78 L174.74 149.83 L175.49 149.88 L176.24 149.94 L176.98 149.99 L177.74 150.04 L178.49 150.10 L179.25 150.15 L180.00 150.20 L180.76 150.26 L181.53 150.31 L182.29 150.36 L183.06 150.41 L183.83 150.46 L184.60 150.52 L185.37 150.57 L186.15 150.62 L186.92 150.67 L187.70 150.72 L188.48 150.77 L189.27 150.82 L190.05 150.87 L190.84 150.92 L191.63 150.97 L192.43 151.02 L193.22 151.07 L194.02 151.12 L194.82 151.17 L195.62 151.22 L196.42 151.26 L197.23 151.31 L198.04 151.36 L198.85 151.41 L199.66 151.46 L200.47 151.50 L201.29 151.55 L202.11 151.60 L202.93 151.64 L203.75 151.69 L204.58 151.74 L205.41 151.78 L206.24 151.83 L207.07 151.88 L207.90 151.92 L208.74 151.97 L209.58 152.01 L210.42 152.06 L211.26 152.10 L212.11 152.15 L212.95 152.19 L213.80 152.23 L214.66 152.28 L215.51 152.32 L216.37 152.37 L217.23 152.41 L218.09 152.45 L218.95 152.50 L219.81 152.54 L220.68 152.58 L221.55 152.62 L222.42 152.67 L223.30 152.71 L224.17 152.75 L225.05 152.79 L225.93 152.83 L226.82 152.88 L227.70 152.92 L228.59 152.96 L229.48 153.00 L230.37 153.04 L231.26 153.08 L232.16 153.12 L233.06 153.16 L233.96 153.20 L234.86 153.24 L235.77 153.28 L236.67 153.32 L237.58 153.36 L238.50 153.40 L239.41 153.44 L240.33 153.48 L241.24 153.52 L242.16 153.55 L243.09 153.59 L244.01 153.63 L244.94 153.67 L245.87 153.71 L246.80 153.74 L247.74 153.78 L248.67 153.82 L249.61 153.86 L250.55 153.89 L251.49 153.93 L252.44 153.97 L253.39 154.00 L254.34 154.04 L255.29 154.07 L256.24 154.11 L257.20 154.15 L258.16 154.18 L259.12 154.22 L260.08 154.25 L261.05 154.29 L262.02 154.32 L262.99 154.36 L263.96 154.39 L264.93 154.43 L265.91 154.46 L266.89 154.50 L267.87 154.53 L268.86 154.56 L269.84 154.60 L270.83 154.63 L271.82 154.67 L272.81 154.70 L273.81 154.73 L274.80 154.77 L275.80 154.80 L276.81 154.83 L277.81 154.86 L278.82 154.90 L279.82 154.93 L280.84 154.96 L281.85 154.99 L282.86 155.03 L283.88 155.06 L284.90 155.09 L285.92 155.12 L286.95 155.15 L287.97 155.18 L289.00 155.21 L290.04 155.25 L291.07 155.28 L292.10 155.31 L293.14 155.34 L294.18 155.37 L295.23 155.40 L296.27 155.43 L297.32 155.46 L298.37 155.49 L299.42 155.52 L300.47 155.55 L301.53 155.58 L302.59 155.61 L303.65 155.64 L304.71 155.67 L305.78 155.69 L306.85 155.72 L307.92 155.75 L308.99 155.78 L310.06 155.81 L311.14 155.84 L312.22 155.87 L313.30 155.89 L314.38 155.92 L315.47 155.95 L316.56 155.98 L317.65 156.01 L318.74 156.03 L319.84 156.06 L320.94 156.09 L322.04 156.12 L323.14 156.14 L324.24 156.17 L325.35 156.20 L326.46 156.22 L327.57 156.25 L328.68 156.28 L329.80 156.30 L330.92 156.33 L332.04 156.36 L333.16 156.38 L334.29 156.41 L335.42 156.43 L336.55 156.46 L337.68 156.48 L338.81 156.51 L339.95 156.54 L341.09 156.56 L342.23 156.59 L343.37 156.61 L344.52 156.64 L345.67 156.66 L346.82 156.69 L347.97 156.71 L349.13 156.74 L350.28 156.76 L351.44 156.78" stroke="#000000" stroke-width="1.7" fill="none" stroke-linejoin="round"/>
<path d="M48.63 236.50 L48.63 236.50 L48.63 236.50 L48.64 236.49 L48.64 236.48 L48.64 236.46 L48.65 236.45 L48.65 236.42 L48.66 236.40 L48.66 236.37 L48.67 236.33 L48.68 236.30 L48.69 236.25 L48.70 236.21 L48.71 236.15 L48.72 236.10 L48.74 236.04 L48.75 235.97 L48.77 235.90 L48.79 235.83 L48.80 235.75 L48.82 235.66 L48.84 235.57 L48.87 235.48 L48.89 235.38 L48.91 235.27 L48.94 235.17 L48.96 235.05 L48.99 234.93 L49.02 234.81 L49.05 234.68 L49.08 234.55 L49.11 234.41 L49.15 234.27 L49.18 234.12 L49.22 233.97 L49.25 233.81 L49.29 233.65 L49.33 233.48 L49.37 233.31 L49.42 233.13 L49.46 232.95 L49.51 232.77 L49.55 232.58 L49.60 232.38 L49.65 232.18 L49.70 231.98 L49.75 231.77 L49.80 231.56 L49.86 231.34 L49.91 231.12 L49.97 230.89 L50.03 230.66 L50.09 230.43 L50.15 230.19 L50.21 229.95 L50.28 229.70 L50.34 229.45 L50.41 229.20 L50.47 228.94 L50.54 228.68 L50.61 228.42 L50.69 228.15 L50.76 227.88 L50.84 227.60 L50.91 227.32 L50.99 227.04 L51.07 226.75 L51.15 226.46 L51.23 226.17 L51.32 225.88 L51.40 225.58 L51.49 225.28 L51.57 224.98 L51.66 224.67 L51.76 224.36 L51.85 224.05 L51.94 223.74 L52.04 223.42 L52.13 223.10 L52.23 222.78 L52.33 222.46 L52.43 222.13 L52.53 221.81 L52.64 221.48 L52.74 221.15 L52.85 220.81 L52.96 220.48 L53.07 220.14 L53.18 219.81 L53.30 219.47 L53.41 219.13 L53.53 218.78 L53.64 218.44 L53.76 218.10 L53.88 217.75 L54.01 217.41 L54.13 217.06 L54.26 216.71 L54.38 216.36 L54.51 216.01 L54.64 215.66 L54.77 215.31 L54.91 214.96 L55.04 214.61 L55.18 214.25 L55.32 213.90 L55.46 213.55 L55.60 213.20 L55.74 212.84 L55.88 212.49 L56.03 212.14 L56.18 211.78 L56.32 211.43 L56.48 211.08 L56.63 210.73 L56.78 210.37 L56.94 210.02 L57.09 209.67 L57.25 209.32 L57.41 208.97 L57.57 208.62 L57.74 208.27 L57.90 207.92 L58.07 207.57 L58.24 207.23 L58.41 206.88 L58.58 206.54 L58.75 206.19 L58.93 205.85 L59.10 205.51 L59.28 205.17 L59.46 204.83 L59.64 204.49 L59.82 204.15 L60.01 203.81 L60.20 203.48 L60.38 203.14 L60.57 202.81 L60.76 202.48 L60.96 202.15 L61.15 201.82 L61.35 201.50 L61.55 201.17 L61.74 200.85 L61.95 200.53 L62.15 200.21 L62.35 199.89 L62.56 199.57 L62.77 199.25 L62.98 198.94 L63.19 198.63 L63.40 198.32 L63.62 198.01 L63.83 197.70 L64.05 197.40 L64.27 197.09 L64.49 196.79 L64.71 196.49 L64.94 196.20 L65.16 195.90 L65.39 195.61 L65.62 195.31 L65.85 195.02 L66.09 194.74 L66.32 194.45 L66.56 194.17 L66.80 193.88 L67.04 193.60 L67.28 193.33 L67.52 193.05 L67.77 192.77 L68.02 192.50 L68.26 192.23 L68.51 191.96 L68.77 191.70 L69.02 191.43 L69.28 191.17 L69.53 190.91 L69.79 190.65 L70.05 190.40 L70.32 190.14 L70.58 189.89 L70.85 189.64 L71.12 189.39 L71.39 189.15 L71.66 188.90 L71.93 188.66 L72.20 188.42 L72.48 188.18 L72.76 187.95 L73.04 187.71 L73.32 187.48 L73.61 187.25 L73.89 187.02 L74.18 186.80 L74.47 186.57 L74.76 186.35 L75.05 186.13 L75.35 185.91 L75.64 185.70 L75.94 185.48 L76.24 185.27 L76.54 185.06 L76.84 184.85 L77.15 184.65 L77.46 184.44 L77.77 184.24 L78.08 184.04 L78.39 183.84 L78.70 183.64 L79.02 183.45 L79.34 183.25 L79.66 183.06 L79.98 182.87 L80.30 182.69 L80.63 182.50 L80.95 182.31 L81.28 182.13 L81.61 181.95 L81.94 181.77 L82.28 181.60 L82.61 181.42 L82.95 181.25 L83.29 181.07 L83.63 180.90 L83.97 180.73 L84.32 180.57 L84.67 180.40 L85.01 180.24 L85.37 180.08 L85.72 179.92 L86.07 179.76 L86.43 179.60 L86.79 179.44 L87.14 179.29 L87.51 179.14 L87.87 178.99 L88.23 178.84 L88.60 178.69 L88.97 178.54 L89.34 178.40 L89.71 178.26 L90.09 178.11 L90.46 177.97 L90.84 177.83 L91.22 177.70 L91.60 177.56 L91.99 177.43 L92.37 177.29 L92.76 177.16 L93.15 177.03 L93.54 176.90 L93.93 176.77 L94.33 176.65 L94.73 176.52 L95.12 176.40 L95.52 176.28 L95.93 176.15 L96.33 176.03 L96.74 175.92 L97.15 175.80 L97.56 175.68 L97.97 175.57 L98.38 175.45 L98.80 175.34 L99.21 175.23 L99.63 175.12 L100.05 175.01 L100.48 174.90 L100.90 174.80 L101.33 174.69 L101.76 174.59 L102.19 174.48 L102.62 174.38 L103.06 174.28 L103.49 174.18 L103.93 174.08 L104.37 173.98 L104.81 173.89 L105.26 173.79 L105.70 173.70 L106.15 173.60 L106.60 173.51 L107.05 173.42 L107.50 173.33 L107.96 173.24 L108.42 173.15 L108.88 173.06 L109.34 172.97 L109.80 172.89 L110.27 172.80 L110.73 172.72 L111.20 172.64 L111.67 172.55 L112.14 172.47 L112.62 172.39 L113.10 172.31 L113.57 172.23 L114.05 172.15 L114.54 172.08 L115.02 172.00 L115.51 171.93 L116.00 171.85 L116.49 171.78 L116.98 171.70 L117.47 171.63 L117.97 171.56 L118.46 171.49 L118.96 171.42 L119.47 171.35 L119.97 171.28 L120.48 171.22 L120.98 171.15 L121.49 171.08 L122.00 171.02 L122.52 170.95 L123.03 170.89 L123.55 170.82 L124.07 170.76 L124.59 170.70 L125.11 170.64 L125.64 170.58 L126.17 170.52 L126.70 170.46 L127.23 170.40 L127.76 170.34 L128.29 170.28 L128.83 170.23 L129.37 170.17 L129.91 170.11 L130.45 170.06 L131.00 170.01 L131.55 169.95 L132.09 169.90 L132.64 169.85 L133.20 169.79 L133.75 169.74 L134.31 169.69 L134.87 169.64 L135.43 169.59 L135.99 169.54 L136.56 169.49 L137.12 169.44 L137.69 169.40 L138.26 169.35 L138.83 169.30 L139.41 169.25 L139.98 169.21 L140.56 169.16 L141.14 169.12 L141.73 169.07 L142.31 169.03 L142.90 168.99 L143.49 168.94 L144.08 168.90 L144.67 168.86 L145.26 168.82 L145.86 168.78 L146.46 168.73 L147.06 168.69 L147.66 168.65 L148.27 168.62 L148.87 168.58 L149.48 168.54 L150.09 168.50 L150.70 168.46 L151.32 168.42 L151.93 168.39 L152.55 168.35 L153.17 168.31 L153.80 168.28 L154.42 168.24 L155.05 168.21 L155.68 168.17 L156.31 168.14 L156.94 168.10 L157.57 168.07 L158.21 168.04 L158.85 168.00 L159.49 167.97 L160.13 167.94 L160.78 167.91 L161.43 167.87 L162.07 167.84 L162.72 167.81 L163.38 167.78 L164.03 167.75 L164.69 167.72 L165.35 167.69 L166.01 167.66 L166.67 167.63 L167.34 167.60 L168.01 167.58 L168.67 167.55 L169.35 167.52 L170.02 167.49 L170.69 167.46 L171.37 167.44 L172.05 167.41 L172.73 167.38 L173.42 167.36 L174.10 167.33 L174.79 167.31 L175.48 167.28 L176.17 167.25 L176.87 167.23 L177.56 167.21 L178.26 167.18 L178.96 167.16 L179.66 167.13 L180.37 167.11 L181.07 167.09 L181.78 167.06 L182.49 167.04 L183.20 167.02 L183.92 166.99 L184.63 166.97 L185.35 166.95 L186.07 166.93 L186.80 166.91 L187.52 166.88 L188.25 166.86 L188.98 166.84 L189.71 166.82 L190.44 166.80 L191.17 166.78 L191.91 166.76 L192.65 166.74 L193.39 166.72 L194.14 166.70 L194.88 166.68 L195.63 166.66 L196.38 166.64 L197.13 166.62 L197.88 166.61 L198.64 166.59 L199.40 166.57 L200.16 166.55 L200.92 166.53 L201.68 166.52 L202.45 166.50 L203.22 166.48 L203.99 166.46 L204.76 166.45 L205.54 166.43 L206.31 166.41 L207.09 166.40 L207.87 166.38 L208.66 166.36 L209.44 166.35 L210.23 166.33 L211.02 166.32 L211.81 166.30 L212.60 166.28 L213.40 166.27 L214.20 166.25 L215.00 166.24 L215.80 166.22 L216.60 166.21 L217.41 166.19 L218.22 166.18 L219.03 166.17 L219.84 166.15 L220.65 166.14 L221.47 166.12 L222.29 166.11 L223.11 166.10 L223.93 166.08 L224.76 166.07 L225.59 166.06 L226.41 166.04 L227.25 166.03 L228.08 166.02 L228.92 166.00 L229.75 165.99 L230.59 165.98 L231.44 165.97 L232.28 165.95 L233.13 165.94 L233.97 165.93 L234.82 165.92 L235.68 165.91 L236.53 165.89 L237.39 165.88 L238.25 165.87 L239.11 165.86 L239.97 165.85 L240.84 165.84 L241.71 165.83 L242.58 165.82 L243.45 165.81 L244.32 165.79 L245.20 165.78 L246.08 165.77 L246.96 165.76 L247.84 165.75 L248.72 165.74 L249.61 165.73 L250.50 165.72 L251.39 165.71 L252.28 165.70 L253.18 165.69 L254.08 165.68 L254.98 165.67 L255.88 165.66 L256.78 165.65 L257.69 165.64 L258.60 165.64 L259.51 165.63 L260.42 165.62 L261.33 165.61 L262.25 165.60 L263.17 165.59 L264.09 165.58 L265.01 165.57 L265.94 165.56 L266.87 165.56 L267.80 165.55 L268.73 165.54 L269.66 165.53 L270.60 165.52 L271.54 165.51 L272.48 165.51 L273.42 165.50 L274.36 165.49 L275.31 165.48 L276.26 165.47 L277.21 165.47 L278.16 165.46 L279.12 165.45 L280.08 165.44 L281.04 165.44 L282.00 165.43 L282.96 165.42 L283.93 165.41 L284.90 165.41 L285.87 165.40 L286.84 165.39 L287.82 165.39 L288.80 165.38 L289.78 165.37 L290.76 165.36 L291.74 165.36 L292.73 165.35 L293.72 165.34 L294.71 165.34 L295.70 165.33 L296.69 165.33 L297.69 165.32 L298.69 165.31 L299.69 165.31 L300.69 165.30 L301.70 165.29 L302.71 165.29 L303.72 165.28 L304.73 165.28 L305.74 165.27 L306.76 165.26 L307.78 165.26 L308.80 165.25 L309.82 165.25 L310.85 165.24 L311.88 165.23 L312.91 165.23 L313.94 165.22 L314.97 165.22 L316.01 165.21 L317.05 165.21 L318.09 165.20 L319.13 165.20 L320.18 165.19 L321.22 165.19 L322.27 165.18 L323.33 165.18 L324.38 165.17 L325.44 165.16 L326.49 165.16 L327.55 165.15 L328.62 165.15 L329.68 165.14 L330.75 165.14 L331.82 165.14 L332.89 165.13 L333.96 165.13 L335.04 165.12 L336.12 165.12 L337.20 165.11 L338.28 165.11 L339.37 165.10 L340.45 165.10 L341.54 165.09 L342.63 165.09 L343.73 165.08 L344.82 165.08 L345.92 165.08 L347.02 165.07 L348.12 165.07 L349.23 165.06 L350.34 165.06 L351.44 165.05" stroke="#ff0000" stroke-width="1.7" fill="none" stroke-linejoin="round"/>
<line x1="47.8" y1="258.7" x2="68.0" y2="258.7" stroke="#0000ff" stroke-width="1.7"/>
<line x1="123.1" y1="258.7" x2="143.3" y2="258.7" stroke="#00ff00" stroke-width="1.7"/>
<line x1="186.8" y1="258.7" x2="207.0" y2="258.7" stroke="#000" stroke-width="1.7"/>
<line x1="262.0" y1="258.7" x2="282.2" y2="258.7" stroke="#ff0000" stroke-width="1.7"/>
</svg>
<div class="t" style="left:5px;top:24.9px;width:7px;text-align:right">3</div>
<div class="t" style="left:5px;top:69.6px;width:7px;text-align:right">2</div>
<div class="t" style="left:5px;top:114.3px;width:7px;text-align:right">1</div>
<div class="t" style="left:0px;top:203.9px;width:12px;text-align:right">&minus;1</div>
<div class="t" style="left:100.0px;top:168.5px;width:40px;text-align:center">0.5</div>
<div class="t" style="left:205.1px;top:168.5px;width:40px;text-align:center">1.0</div>
<div class="t" style="left:309.6px;top:168.5px;width:40px;text-align:center">1.5</div>
<div class="t i" style="left:12.6px;top:2.7px;font-size:10px">P</div>
<div class="t i" style="left:366.1px;top:158px;font-size:11px">R<span style="font-size:9.5px;position:relative;top:2.2px;margin-left:-0.8px">A</span></div>
<div class="l" style="left:76.8px">T=1.4</div>
<div class="l" style="left:152.1px">T=1</div>
<div class="l" style="left:215.3px">T=0.6</div>
<div class="l" style="left:290.8px">T=0.01</div>
</body></html>
